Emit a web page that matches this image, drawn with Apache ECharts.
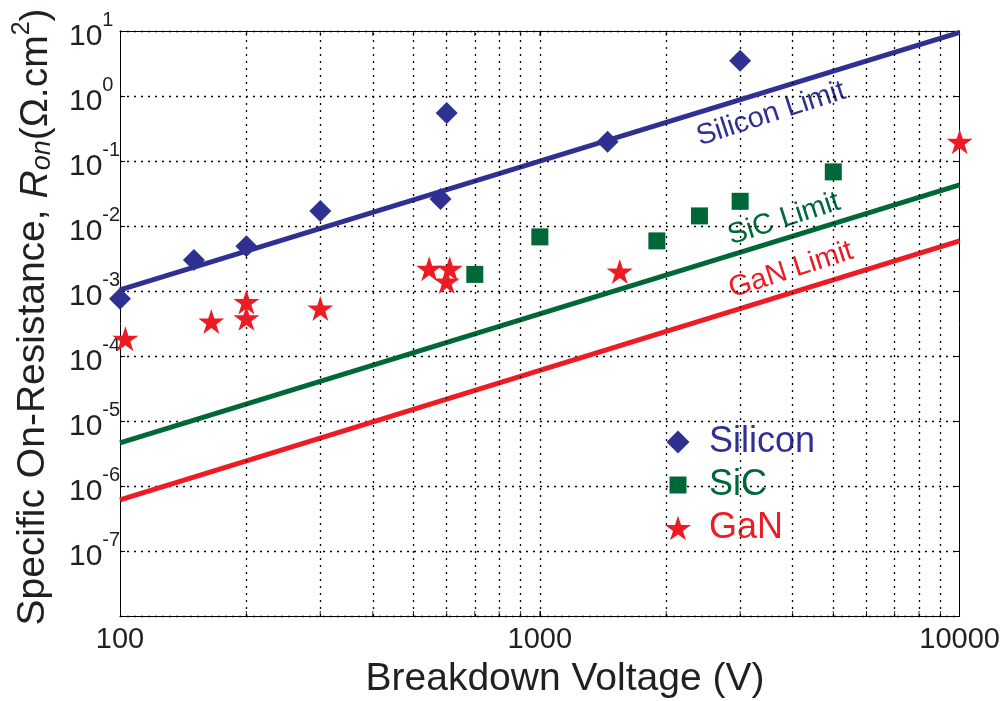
<!DOCTYPE html>
<html><head><meta charset="utf-8">
<script src="https://cdn.jsdelivr.net/npm/echarts@6/dist/echarts.min.js"></script>
<style>html,body{margin:0;padding:0;background:#fff}#c{width:1003px;height:701px}</style>
</head><body><div id="c"></div>
<script>
// ---------- data ----------
const siliconV = [100, 150, 200, 300, 580, 600, 1450, 3000];
const siliconR = [7.6e-4, 3.0e-3, 4.9e-3, 0.017, 0.026, 0.55, 0.198, 3.5];
const sicV = [700, 1000, 1900, 2400, 3000, 5000];
const sicR = [1.8e-3, 6.8e-3, 5.9e-3, 0.0143, 0.024, 0.068];
const ganV = [103, 165, 200, 200, 300, 545, 610, 600, 1550, 10000];
const ganR = [1.85e-4, 3.4e-4, 6.8e-4, 3.8e-4, 5.4e-4, 2.2e-3, 2.2e-3, 1.4e-3, 2.0e-3, 0.198];
const limitV = [100, 10000];
const siLimit = [1.04e-3, 9.5];
const sicLimit = [4.6e-6, 0.043];
const ganLimit = [6.1e-7, 5.9e-3];
const xMinorTicks = [200, 300, 400, 500, 600, 700, 800, 900, 1000, 2000, 3000, 4000, 5000, 6000, 7000, 8000, 9000];
const seriesNames = ['Silicon', 'SiC', 'GaN'];
const limitNames = ['Silicon Limit', 'SiC Limit', 'GaN Limit'];
const xTitle = 'Breakdown Voltage (V)';

// ---------- style ----------
const FONT = '"Liberation Sans", Arial, Helvetica, sans-serif';
const BLUE = '#2E3192', GREEN = '#006838', RED = '#ED1C24', INK = '#231F20';
const STAR = 'path://M100,0 L122.45,69.1 L195.1,69.1 L136.3,111.8 L158.8,180.9 L100,138.2 L41.2,180.9 L63.7,111.8 L4.9,69.1 L77.55,69.1 Z';
// legend icons: padded boxes so that each marker keeps its own size inside a 26px icon cell
const LEG_DIAMOND = 'path://M0,0 M26,26 M13,1.5 L24.5,13 L13,24.5 L1.5,13 Z';
const LEG_SQUARE = 'path://M0,0 M26,26 M4.5,4.5 L21.5,4.5 L21.5,21.5 L4.5,21.5 Z';
const zip = (a, b) => a.map((v, i) => [v, b[i]]);
const gridDots = { type: [2, 5], color: '#000', width: 1.3 };

const chart = echarts.init(document.getElementById('c'), null, { renderer: 'canvas' });

const xBase = {
  type: 'log', logBase: 10, min: 100, max: 10000, gridIndex: 0,
  axisLine: { show: true, lineStyle: { color: '#000', width: 1 } },
  axisTick: { show: true, inside: true, length: 5, lineStyle: { color: '#000' } },
  splitLine: { show: false }
};
const yBase = {
  type: 'log', logBase: 10, min: 1e-8, max: 10, gridIndex: 0,
  axisLine: { show: true, lineStyle: { color: '#000', width: 1 } },
  axisTick: { show: true, inside: true, length: 5, lineStyle: { color: '#000' } }
};

const option = {
  animation: false,
  backgroundColor: '#fff',
  grid: { left: 120, top: 31, width: 841, height: 585, containLabel: false },
  xAxis: [
    Object.assign({}, xBase, {
      position: 'bottom',
      axisLabel: { show: true, margin: 9, fontSize: 29, fontFamily: FONT, color: INK,
        formatter: v => String(Math.round(v)) }
    }),
    Object.assign({}, xBase, { position: 'top', axisLabel: { show: false } })
  ],
  yAxis: [
    Object.assign({}, yBase, {
      position: 'left',
      splitLine: { show: true, lineStyle: gridDots },
      axisLabel: {
        show: true, align: 'left', margin: 51, color: INK, fontFamily: FONT,
        formatter: v => {
          const e = Math.round(Math.log10(v));
          if (e === -8) return '';
          return '{b|10}{e|' + e + '}';
        },
        rich: {
          b: { fontSize: 30, fontFamily: FONT, color: INK, lineHeight: 41, verticalAlign: 'bottom' },
          e: { fontSize: 20, fontFamily: FONT, color: INK, verticalAlign: 'top' }
        }
      }
    }),
    Object.assign({}, yBase, { position: 'right', splitLine: { show: false }, axisLabel: { show: false } })
  ],
  legend: {
    show: true, orient: 'vertical', left: 665, top: 424, padding: 0,
    itemWidth: 26, itemHeight: 26, itemGap: 7, symbolKeepAspect: true,
    textStyle: { fontSize: 36, fontFamily: FONT, lineHeight: 36, padding: [0, 0, 0, 13] },
    data: [
      { name: seriesNames[0], icon: LEG_DIAMOND, textStyle: { color: BLUE } },
      { name: seriesNames[1], icon: LEG_SQUARE, textStyle: { color: GREEN } },
      { name: seriesNames[2], icon: STAR, textStyle: { color: RED } }
    ]
  },
  series: [
    { name: 'xticks-bottom', type: 'scatter', silent: true, clip: false,
      data: xMinorTicks.map(v => [v, 1e-8]), symbol: 'rect', symbolSize: [1, 5], symbolOffset: [0, -2.5],
      itemStyle: { color: '#000' },
      markLine: { silent: true, symbol: 'none', label: { show: false }, lineStyle: gridDots,
        data: xMinorTicks.map(v => ({ xAxis: v })) } },
    { name: 'xticks-top', type: 'scatter', silent: true, clip: false,
      data: xMinorTicks.map(v => [v, 10]), symbol: 'rect', symbolSize: [1, 5], symbolOffset: [0, 2.5],
      itemStyle: { color: '#000' } },
    { name: limitNames[0], type: 'line', data: zip(limitV, siLimit), symbol: 'none', silent: true,
      lineStyle: { color: BLUE, width: 5 }, z: 3 },
    { name: limitNames[1], type: 'line', data: zip(limitV, sicLimit), symbol: 'none', silent: true,
      lineStyle: { color: GREEN, width: 5 }, z: 3 },
    { name: limitNames[2], type: 'line', data: zip(limitV, ganLimit), symbol: 'none', silent: true,
      lineStyle: { color: RED, width: 5 }, z: 3 },
    { name: seriesNames[0], type: 'scatter', data: zip(siliconV, siliconR), symbol: 'diamond',
      symbolSize: 22, clip: false, itemStyle: { color: BLUE, opacity: 1 }, z: 5 },
    { name: seriesNames[1], type: 'scatter', data: zip(sicV, sicR), symbol: 'rect',
      symbolSize: 17, clip: false, itemStyle: { color: GREEN, opacity: 1 }, z: 5 },
    { name: seriesNames[2], type: 'scatter', data: zip(ganV, ganR), symbol: STAR,
      symbolSize: [26, 25], clip: false, itemStyle: { color: RED, opacity: 1 }, z: 6 }
  ],
  graphic: [
    { type: 'text', x: 565, y: 679, silent: true,
      style: { text: xTitle, fill: INK, fontSize: 39, fontFamily: FONT, align: 'center', verticalAlign: 'middle',
        textAlign: 'center', textVerticalAlign: 'middle' } },
    { type: 'text', x: 33, y: 317, rotation: Math.PI / 2, silent: true,
      style: {
        text: 'Specific On-Resistance, {i|R}{s|on}{n|(Ω.cm}{p|2}{n|)}',
        fill: INK, fontSize: 39, fontFamily: FONT, lineHeight: 46,
        align: 'center', verticalAlign: 'middle', textAlign: 'center', textVerticalAlign: 'middle',
        rich: {
          i: { fontSize: 39, fontStyle: 'italic', fontFamily: FONT, fill: INK, verticalAlign: 'bottom', lineHeight: 46 },
          s: { fontSize: 27, fontStyle: 'italic', fontFamily: FONT, fill: INK, verticalAlign: 'bottom' },
          n: { fontSize: 39, fontFamily: FONT, fill: INK, verticalAlign: 'bottom', lineHeight: 46 },
          p: { fontSize: 25, fontFamily: FONT, fill: INK, verticalAlign: 'top' }
        }
      } },
    { type: 'text', x: 771, y: 114, rotation: 18 * Math.PI / 180, silent: true,
      style: { text: limitNames[0], fill: BLUE, fontSize: 29, fontFamily: FONT, align: 'center', verticalAlign: 'middle',
        textAlign: 'center', textVerticalAlign: 'middle' } },
    { type: 'text', x: 784, y: 219, rotation: 18 * Math.PI / 180, silent: true,
      style: { text: limitNames[1], fill: GREEN, fontSize: 29, fontFamily: FONT, align: 'center', verticalAlign: 'middle',
        textAlign: 'center', textVerticalAlign: 'middle' } },
    { type: 'text', x: 791, y: 270, rotation: 18 * Math.PI / 180, silent: true,
      style: { text: limitNames[2], fill: RED, fontSize: 29, fontFamily: FONT, align: 'center', verticalAlign: 'middle',
        textAlign: 'center', textVerticalAlign: 'middle' } }
  ]
};
chart.setOption(option);
</script></body></html>
